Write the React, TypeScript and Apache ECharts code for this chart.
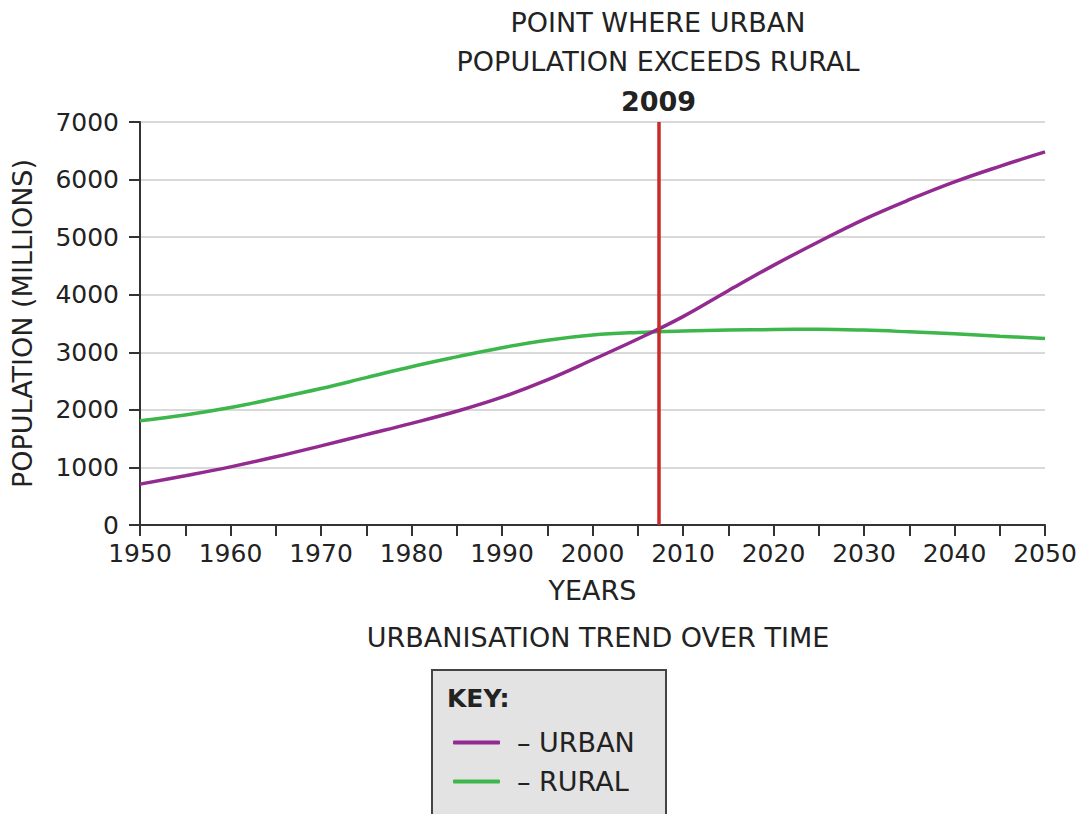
import React, { useEffect, useRef } from "react";
import * as echarts from "echarts";

const years = [1950, 1955, 1960, 1965, 1970, 1975, 1980, 1985, 1990, 1995, 2000, 2005, 2010, 2015, 2020, 2025, 2030, 2035, 2040, 2045, 2050];
const urban = [710, 855, 1010, 1185, 1375, 1570, 1765, 1975, 2220, 2520, 2870, 3230, 3620, 4070, 4510, 4920, 5310, 5650, 5960, 6230, 6480];
const rural = [1810, 1910, 2040, 2200, 2370, 2560, 2750, 2920, 3080, 3210, 3300, 3345, 3370, 3385, 3395, 3400, 3385, 3355, 3320, 3280, 3240];
const crossoverX = 2007.3;
const crossoverLabel = "2009";
const yTicks = [0, 1000, 2000, 3000, 4000, 5000, 6000, 7000];

const FONT = "DejaVu Sans";
const PURPLE = "#922a8f";
const GREEN = "#3db64b";
const RED = "#c92a2a";

export default function App() {
  const ref = useRef<HTMLDivElement>(null);
  useEffect(() => {
    if (!ref.current) return;
    const chart = echarts.init(ref.current, null, { renderer: "svg" });
    chart.setOption({
      animation: false,
      backgroundColor: "#ffffff",
      textStyle: { fontFamily: FONT },
      grid: { left: 140, right: 36, top: 122, bottom: 289, containLabel: false },
      xAxis: {
        type: "value",
        min: 1950,
        max: 2050,
        interval: 5,
        name: "YEARS",
        nameLocation: "middle",
        nameGap: 52,
        nameTextStyle: { fontFamily: FONT, fontSize: 27, color: "#222" },
        axisLine: { show: true, onZero: false, lineStyle: { color: "#333", width: 2 } },
        axisTick: { show: true, length: 11, lineStyle: { color: "#333", width: 2 } },
        axisLabel: {
          fontFamily: FONT,
          fontSize: 25,
          color: "#222",
          margin: 16,
          formatter: (v: number) => (v % 10 === 0 ? String(v) : ""),
        },
        splitLine: { show: false },
      },
      yAxis: {
        type: "value",
        min: yTicks[0],
        max: yTicks[yTicks.length - 1],
        interval: 1000,
        name: "POPULATION (MILLIONS)",
        nameLocation: "middle",
        nameGap: 104,
        nameTextStyle: { fontFamily: FONT, fontSize: 27, color: "#222" },
        axisLine: { show: true, lineStyle: { color: "#333", width: 2 } },
        axisTick: { show: true, length: 11, lineStyle: { color: "#333", width: 2 } },
        axisLabel: { fontFamily: FONT, fontSize: 25, color: "#222", margin: 21, formatter: (v: number) => String(v) },
        splitLine: { show: true, lineStyle: { color: "#d9d9d9", width: 2 } },
      },
      legend: {
        orient: "vertical",
        left: 448,
        top: 724,
        itemWidth: 47,
        itemHeight: 4,
        itemGap: 12,
        icon: "roundRect",
        data: ["URBAN", "RURAL"],
        formatter: (n: string) => "– " + n,
        textStyle: { fontFamily: FONT, fontSize: 27, color: "#222", padding: [0, 0, 0, 12] },
      },
      graphic: [
        {
          type: "rect",
          z: -1,
          shape: { x: 432, y: 670, width: 234, height: 160 },
          style: { fill: "#e3e3e3", stroke: "#444", lineWidth: 2 },
        },
        {
          type: "text",
          x: 447,
          y: 698,
          style: { text: "KEY:", font: `bold 25px "${FONT}"`, fill: "#222", textVerticalAlign: "middle" },
        },
        {
          type: "text",
          x: 658,
          y: 22,
          style: { text: "POINT WHERE URBAN", font: `27px "${FONT}"`, fill: "#222", textAlign: "center", textVerticalAlign: "middle" },
        },
        {
          type: "text",
          x: 658,
          y: 61,
          style: { text: "POPULATION EXCEEDS RURAL", font: `27px "${FONT}"`, fill: "#222", textAlign: "center", textVerticalAlign: "middle" },
        },
        {
          type: "text",
          x: 598,
          y: 637,
          style: { text: "URBANISATION TREND OVER TIME", font: `27px "${FONT}"`, fill: "#222", textAlign: "center", textVerticalAlign: "middle" },
        },
      ],
      series: [
        {
          name: "URBAN",
          type: "line",
          smooth: 0.4,
          showSymbol: false,
          color: PURPLE,
          lineStyle: { color: PURPLE, width: 3.5 },
          data: years.map((y, i) => [y, urban[i]]),
          z: 3,
          markLine: {
            silent: true,
            symbol: ["none", "none"],
            lineStyle: { color: RED, width: 3.5, type: "solid" },
            label: {
              show: true,
              position: "end",
              distance: 7,
              formatter: crossoverLabel,
              fontFamily: FONT,
              fontWeight: "bold",
              fontSize: 27,
              color: "#222",
            },
            data: [{ xAxis: crossoverX }],
          },
        },
        {
          name: "RURAL",
          type: "line",
          smooth: 0.4,
          showSymbol: false,
          color: GREEN,
          lineStyle: { color: GREEN, width: 3.5 },
          data: years.map((y, i) => [y, rural[i]]),
          z: 2,
        },
      ],
    });
    return () => chart.dispose();
  }, []);
  return <div ref={ref} style={{ width: 1081, height: 814, position: "absolute", left: 0, top: 0 }} />;
}
